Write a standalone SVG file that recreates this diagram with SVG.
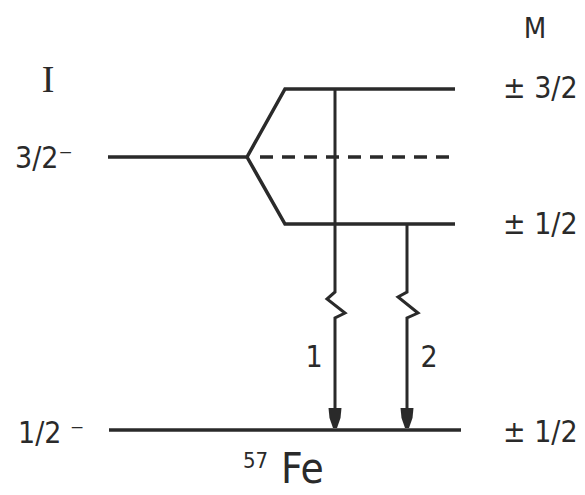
<svg xmlns="http://www.w3.org/2000/svg" width="585" height="495" viewBox="0 0 585 495">
  <style>
    .lvl { fill: none; stroke: #2a2a2a; stroke-width: 3.5; stroke-linecap: butt; stroke-linejoin: miter; }
    .dash { fill: none; stroke: #2a2a2a; stroke-width: 3.5; stroke-dasharray: 13 9; }
    .tr { fill: none; stroke: #2a2a2a; stroke-width: 3; stroke-linejoin: miter; }
    .head { fill: #2a2a2a; stroke: none; }
    .t { font-family: "DejaVu Sans Condensed", "DejaVu Sans", "Liberation Sans", sans-serif; font-stretch: condensed; fill: #2a2a2a; }
    .serif { font-family: "Liberation Serif", "DejaVu Serif", serif; fill: #2a2a2a; }
  </style>
  <rect width="585" height="495" fill="#ffffff"/>

  <g id="level-3-2">
    <path class="lvl" d="M108,157 L247,157 L285,89 L455,89"/>
    <path class="lvl" d="M247,157 L285,224 L455,224"/>
    <path class="dash" d="M260,157 L457,157"/>
  </g>

  <g id="level-1-2">
    <path class="lvl" d="M109,430 L461,430"/>
  </g>

  <g id="connectors">
    <g id="transition-1">
      <path class="tr" d="M335,89 L335,292 L327,299 L345,313 L335,318 L335,412"/>
      <path class="head" d="M328.5,408 L341.5,408 L340.5,418 L337,428 L333,428 L329.5,418 Z"/>
    </g>
    <g id="transition-2">
      <path class="tr" d="M407,224 L407,292 L398,297 L418,313 L407,318 L407,412"/>
      <path class="head" d="M400.5,408 L413.5,408 L412.5,418 L409,428 L405,428 L401.5,418 Z"/>
    </g>
  </g>

  <g id="labels">
    <text class="serif" x="48" y="92" text-anchor="middle" style="font-size:38px">I</text>
    <text class="t" x="535" y="38" text-anchor="middle" style="font-size:29px">M</text>
    <text class="t" x="15" y="168" style="font-size:30px">3/2⁻</text>
    <text class="t" x="18" y="443" style="font-size:30px">1/2 ⁻</text>
    <text class="t" x="503" y="98" style="font-size:30px">± 3/2</text>
    <text class="t" x="503" y="234" style="font-size:30px">± 1/2</text>
    <text class="t" x="503" y="442" style="font-size:30px">± 1/2</text>
    <text class="t" x="314" y="367" text-anchor="middle" style="font-size:30px">1</text>
    <text class="t" x="429" y="367" text-anchor="middle" style="font-size:30px">2</text>
    <text class="t" x="243" y="468" style="font-size:22px">57</text>
    <text class="t" x="281" y="483" style="font-size:42px">Fe</text>
  </g>
</svg>
